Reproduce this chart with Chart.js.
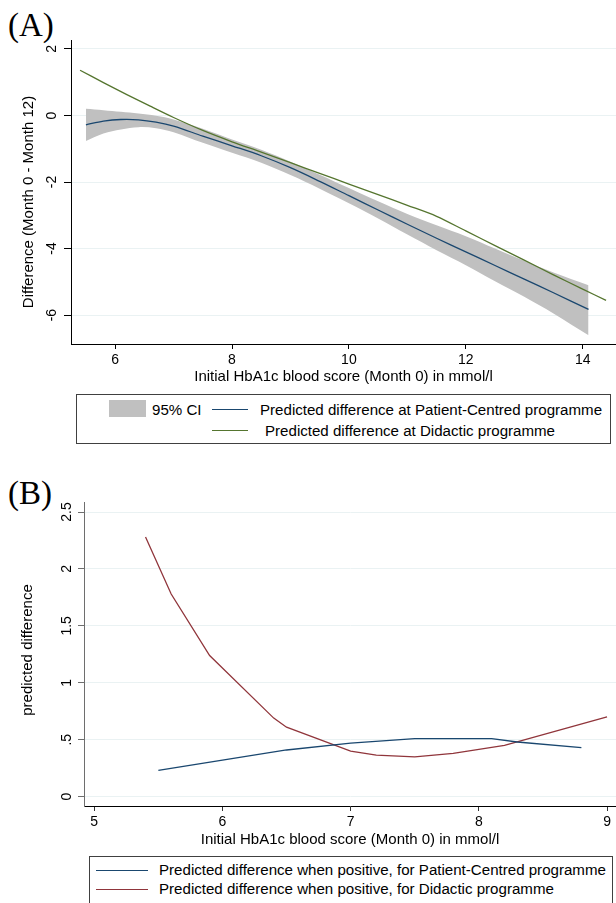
<!DOCTYPE html>
<html>
<head>
<meta charset="utf-8">
<script src="https://cdn.jsdelivr.net/npm/chart.js@4.4.1/dist/chart.umd.min.js"></script>
<style>
  body { margin: 0; width: 616px; height: 903px; overflow: hidden; background: #fff; position: relative;
         font-family: "Liberation Sans", Arial, sans-serif; color: #000; }
  canvas { position: absolute; left: 0; }
  #chartA { top: 0; }
  #chartB { top: 460px; }
  .panel { position: absolute; font-family: "Liberation Serif", "Times New Roman", serif; font-size: 33px; line-height: 33px; }
  .ytitle { position: absolute; font-size: 15px; line-height: 18px; white-space: nowrap; transform: translate(-50%, -50%) rotate(-90deg); }
  .legend { position: absolute; border: 1px solid #404040; box-sizing: border-box; }
  .txt { position: absolute; font-size: 15.1px; line-height: 18px; white-space: nowrap; }
  .key { position: absolute; height: 1px; }
</style>
</head>
<body>
<div class="panel" style="left:8px;top:9px">(A)</div>
<div class="panel" style="left:8px;top:477px">(B)</div>

<canvas id="chartA" width="616" height="392"></canvas>
<canvas id="chartB" width="616" height="392"></canvas>

<div class="ytitle" style="left:28px;top:202px">Difference (Month 0 - Month 12)</div>
<div class="ytitle" style="left:27px;top:650px">predicted difference</div>

<div class="legend" style="left:76px;top:394px;width:535px;height:50px"></div>
<div class="key" style="left:109px;top:400px;width:37px;height:17px;background:#c0c0c0"></div>
<div class="txt" style="left:152px;top:401px">95% CI</div>
<div class="key" style="left:212px;top:409px;width:36px;background:#1a476f"></div>
<div class="txt" style="left:260px;top:401px">Predicted difference at Patient-Centred programme</div>
<div class="key" style="left:212px;top:430px;width:36px;background:#55752f"></div>
<div class="txt" style="left:265px;top:422px">Predicted difference at Didactic programme</div>

<div class="legend" style="left:89px;top:856px;width:524px;height:60px"></div>
<div class="key" style="left:96px;top:870px;width:52px;background:#1a476f"></div>
<div class="txt" style="left:159px;top:861px">Predicted difference when positive, for Patient-Centred programme</div>
<div class="key" style="left:96px;top:889px;width:52px;background:#90353b"></div>
<div class="txt" style="left:159px;top:880px">Predicted difference when positive, for Didactic programme</div>

<script>
// ---- panel A data ----
const ciX = [5.5, 5.8, 6.1, 6.4, 6.7, 7.0, 7.5, 8.0, 8.5, 9.0, 9.5, 10.0, 10.5, 11.0, 11.5, 12.0, 12.5, 13.0, 13.5, 14.1];
const ciUpper = [0.2, 0.16, 0.11, 0.06, -0.01, -0.12, -0.4, -0.72, -1.03, -1.39, -1.78, -2.18, -2.58, -2.96, -3.3, -3.63, -4.0, -4.37, -4.72, -5.1];
const ciLower = [-0.77, -0.54, -0.42, -0.35, -0.38, -0.5, -0.82, -1.12, -1.42, -1.79, -2.2, -2.64, -3.1, -3.58, -4.05, -4.5, -4.98, -5.45, -5.95, -6.61];
const patientA = [-0.28, -0.17, -0.12, -0.13, -0.2, -0.32, -0.62, -0.91, -1.21, -1.57, -1.98, -2.41, -2.84, -3.27, -3.69, -4.1, -4.51, -4.92, -5.33, -5.83];
const didacticAX = [5.4, 5.8, 6.2, 6.6, 7.0, 7.5, 8.0, 8.5, 9.0, 9.5, 10.0, 10.5, 11.0, 11.5, 12.0, 12.5, 13.0, 13.5, 14.0, 14.4];
const didacticA = [1.36, 0.99, 0.63, 0.28, -0.06, -0.45, -0.79, -1.1, -1.42, -1.74, -2.06, -2.38, -2.7, -3.03, -3.47, -3.91, -4.35, -4.79, -5.22, -5.56];
const xTicksA = [6, 8, 10, 12, 14];
const yTicksA = [-6, -4, -2, 0, 2];
const yLabelsA = ["-6", "-4", "-2", "0", "2"];

// ---- panel B data ----
const patientBX = [5.5, 6.0, 6.5, 7.0, 7.5, 8.1, 8.3, 8.8];
const patientB = [0.23, 0.32, 0.41, 0.47, 0.51, 0.51, 0.48, 0.43];
const didacticBX = [5.4, 5.6, 5.9, 6.4, 6.5, 7.0, 7.2, 7.5, 7.8, 8.2, 9.0];
const didacticB = [2.28, 1.78, 1.24, 0.69, 0.61, 0.40, 0.365, 0.35, 0.38, 0.45, 0.70];
const xTicksB = [5, 6, 7, 8, 9];
const yTicksB = [0, 0.5, 1, 1.5, 2, 2.5];
const yLabelsB = ["0", ".5", "1", "1.5", "2", "2.5"];

const xTitle = "Initial HbA1c blood score (Month 0) in mmol/l";

Chart.defaults.color = "#000";
Chart.defaults.font.family = '"Liberation Sans", Arial, sans-serif';

function points(xs, ys) {
  return xs.map((x, i) => ({ x: x, y: ys[i] }));
}

function setTicks(values) {
  return function (scale) {
    scale.ticks = values.map((v) => ({ value: v }));
  };
}

function lineSet(label, xs, ys, color, tension) {
  return {
    label: label,
    data: points(xs, ys),
    borderColor: color,
    borderWidth: 1.3,
    pointRadius: 0,
    fill: false,
    tension: tension,
  };
}

function makeOptions(cfg) {
  return {
    responsive: false,
    animation: false,
    devicePixelRatio: 1,
    layout: { padding: { top: cfg.top, right: 0, bottom: 0, left: 0 } },
    plugins: { legend: { display: false }, tooltip: { enabled: false } },
    scales: {
      x: {
        type: "linear",
        min: cfg.xMin,
        max: cfg.xMax,
        afterBuildTicks: setTicks(cfg.xTicks),
        afterFit: (s) => { s.height = cfg.xHeight; },
        grid: { display: true, drawOnChartArea: false, tickLength: 5, tickColor: cfg.xTickColor },
        border: { color: "#000", width: 1 },
        ticks: { font: { size: 14 }, padding: 3, maxRotation: 0 },
        title: { display: true, text: xTitle, font: { size: 15 }, padding: { top: 0, bottom: cfg.titlePad } },
      },
      y: {
        type: "linear",
        min: cfg.yMin,
        max: cfg.yMax,
        afterBuildTicks: setTicks(cfg.yTicks),
        afterFit: (s) => { s.width = cfg.yWidth; },
        grid: { color: "#eaf2f3", lineWidth: 1, tickLength: cfg.yTickLen, tickColor: cfg.yColor },
        border: { color: cfg.yColor, width: 1 },
        ticks: {
          font: { size: 14 },
          minRotation: 90,
          maxRotation: 90,
          crossAlign: "center",
          padding: cfg.yPad,
          callback: (v) => cfg.yLabels[cfg.yTicks.indexOf(v)],
        },
      },
    },
  };
}

new Chart(document.getElementById("chartA"), {
  type: "line",
  data: {
    datasets: [
      lineSet("Predicted difference at Patient-Centred programme", ciX, patientA, "#1a476f", 0.35),
      lineSet("Predicted difference at Didactic programme", didacticAX, didacticA, "#55752f", 0.3),
      {
        label: "95% CI",
        data: points(ciX, ciUpper),
        borderWidth: 0,
        pointRadius: 0,
        backgroundColor: "#c0c0c0",
        fill: "+1",
        tension: 0.35,
      },
      {
        label: "ci-lower",
        data: points(ciX, ciLower),
        borderWidth: 0,
        pointRadius: 0,
        fill: false,
        tension: 0.35,
      },
    ],
  },
  options: makeOptions({
    top: 40, xMin: 5.245, xMax: 14.57, xTicks: xTicksA, xHeight: 48, titlePad: 6, xTickColor: "#000",
    yMin: -6.87, yMax: 2.27, yTicks: yTicksA, yLabels: yLabelsA, yWidth: 71, yTickLen: 7, yPad: 6, yColor: "#000",
  }),
});

new Chart(document.getElementById("chartB"), {
  type: "line",
  data: {
    datasets: [
      lineSet("Predicted difference when positive, for Patient-Centred programme", patientBX, patientB, "#1a476f", 0),
      lineSet("Predicted difference when positive, for Didactic programme", didacticBX, didacticB, "#90353b", 0),
    ],
  },
  options: makeOptions({
    top: 42, xMin: 4.92, xMax: 9.07, xTicks: xTicksB, xHeight: 46, titlePad: 3, xTickColor: "#333",
    yMin: -0.082, yMax: 2.588, yTicks: yTicksB, yLabels: yLabelsB, yWidth: 84, yTickLen: 6, yPad: 1.5, yColor: "#6e6e6e",
  }),
});
</script>
</body>
</html>
